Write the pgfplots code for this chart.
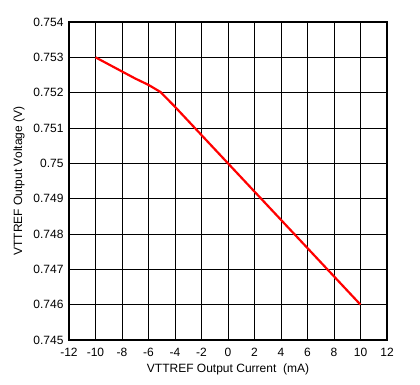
\documentclass[border=0pt]{standalone}
\usepackage{fontspec}
\setmainfont{Liberation Sans}
\usepackage{pgfplots}
\pgfplotsset{compat=1.18}
\begin{document}
\begin{tikzpicture}[x=1pt,y=1pt]
\begin{axis}[
  at={(69pt,45pt)}, anchor=south west,
  scale only axis, width=318pt, height=318pt,
  xmin=-12, xmax=12, ymin=0.745, ymax=0.754,
  xtick={-12,-10,...,12},
  ytick={0.745,0.746,...,0.754},
  yticklabels={0.745,0.746,0.747,0.748,0.749,0.75,0.751,0.752,0.753,0.754},
  scaled y ticks=false,
  grid=major,
  major grid style={black, line width=0.8pt},
  axis line style={black, line width=1.6pt},
  major tick length=0pt,
  /pgf/number format/assume math mode=true,
  tick label style={font=\fontsize{12}{14}\selectfont},
  label style={font=\fontsize{12}{14}\selectfont},
  xticklabel style={yshift=-5pt},
  yticklabel style={xshift=-2pt},
  xlabel={VTTREF Output Current\ \ (mA)},
  ylabel={VTTREF Output Voltage (V)},
  xlabel style={yshift=0pt},
  ylabel style={yshift=2pt},
]
\addplot[red, line width=2.2pt] coordinates {
(-10,0.7530) (-9,0.75280) (-8,0.75260) (-7,0.75240) (-6,0.75222) (-5.1,0.75202)
(-4,0.7516) (0,0.7500) (5,0.7480) (10,0.7460)
};
\end{axis}
\path (0,0) rectangle (420,385);
\end{tikzpicture}
\end{document}
